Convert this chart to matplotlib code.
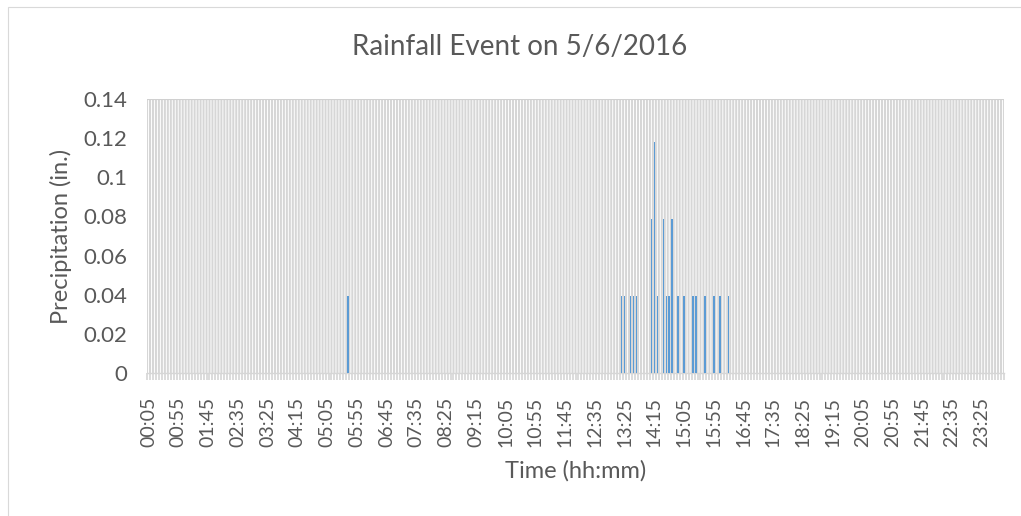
import matplotlib
matplotlib.use("Agg")
import matplotlib.pyplot as plt
from matplotlib.patches import Rectangle

# ---- data ----
# 5-minute categories from 00:05 to 24:00
times = [f"{(m // 60):02d}:{(m % 60):02d}" for m in range(5, 24 * 60 + 1, 5)]
rain_times = ["05:40",
              "13:20", "13:25", "13:35", "13:40", "13:45",
              "14:10", "14:15", "14:20", "14:30", "14:35", "14:40", "14:45",
              "14:55", "15:05", "15:20", "15:25", "15:40", "15:55", "16:05", "16:20"]
rain_values = [0.0394,
               0.0394, 0.0394, 0.0394, 0.0394, 0.0394,
               0.0787, 0.1181, 0.0394, 0.0787, 0.0394, 0.0394, 0.0787,
               0.0394, 0.0394, 0.0394, 0.0394, 0.0394, 0.0394, 0.0394, 0.0394]
yticks = [0, 0.02, 0.04, 0.06, 0.08, 0.1, 0.12, 0.14]
ytick_labels = ["0", "0.02", "0.04", "0.06", "0.08", "0.1", "0.12", "0.14"]
label_step = 10

lookup = dict(zip(rain_times, rain_values))
precip = [lookup.get(t, 0.0) for t in times]

plt.rcParams['font.family'] = ['Lato', 'DejaVu Sans']
txt = '#595959'
grid = '#d6d6d6'

fig = plt.figure(figsize=(10.21, 5.16), dpi=100)
W, H = 1021, 516
fig.patches.append(Rectangle((8 / W, -0.1), 1.2, 1 - 7 / H + 0.1, transform=fig.transFigure,
                             fill=False, edgecolor='#d9d9d9', linewidth=0.8))

ax = fig.add_axes([147 / W, 1 - 373 / H, (1004 - 147) / W, (373 - 99) / H])
n = len(times)
x = list(range(n))

# dense category gridlines
vl = ax.vlines([i - 0.5 for i in range(n + 1)], 0, 0.14, colors=grid, linewidth=1.45, zorder=0)
vl.set_snap(False)
ax.axhline(0.14, color='#d0d0d0', linewidth=0.8, zorder=1)

ax.bar(x, precip, width=0.5, color='#5B9BD5', zorder=3, linewidth=0)

ax.set_xlim(-0.5, n - 0.5)
ax.set_ylim(0, 0.14)
ax.set_yticks(yticks)
ax.set_yticklabels(ytick_labels)
ax.tick_params(axis='y', length=0, pad=14, labelsize=16, labelcolor=txt)

ax.set_xticks(x[::label_step])
ax.set_xticklabels(times[::label_step], rotation=90)
ax.tick_params(axis='x', which='major', length=0, pad=17, labelsize=14, labelcolor=txt)
ax.set_xticks([i - 0.5 for i in range(n + 1)], minor=True)
ax.tick_params(axis='x', which='minor', length=5, width=1.2, color=grid, direction='out')

for s in ['top', 'right', 'left']:
    ax.spines[s].set_visible(False)
ax.spines['bottom'].set_color(grid)
ax.spines['bottom'].set_linewidth(1.0)

ax.set_ylabel("Precipitation (in.)", fontsize=17, color=txt, labelpad=8)
ax.set_xlabel("Time (hh:mm)", fontsize=17, color=txt, va='center')
ax.xaxis.set_label_coords(0.5, (373 - 471) / (373 - 99))
fig.text(520 / W, 1 - 47 / H, "Rainfall Event on 5/6/2016", ha='center', va='center',
         fontsize=20, color=txt)

fig.savefig("out.png", dpi=100)
